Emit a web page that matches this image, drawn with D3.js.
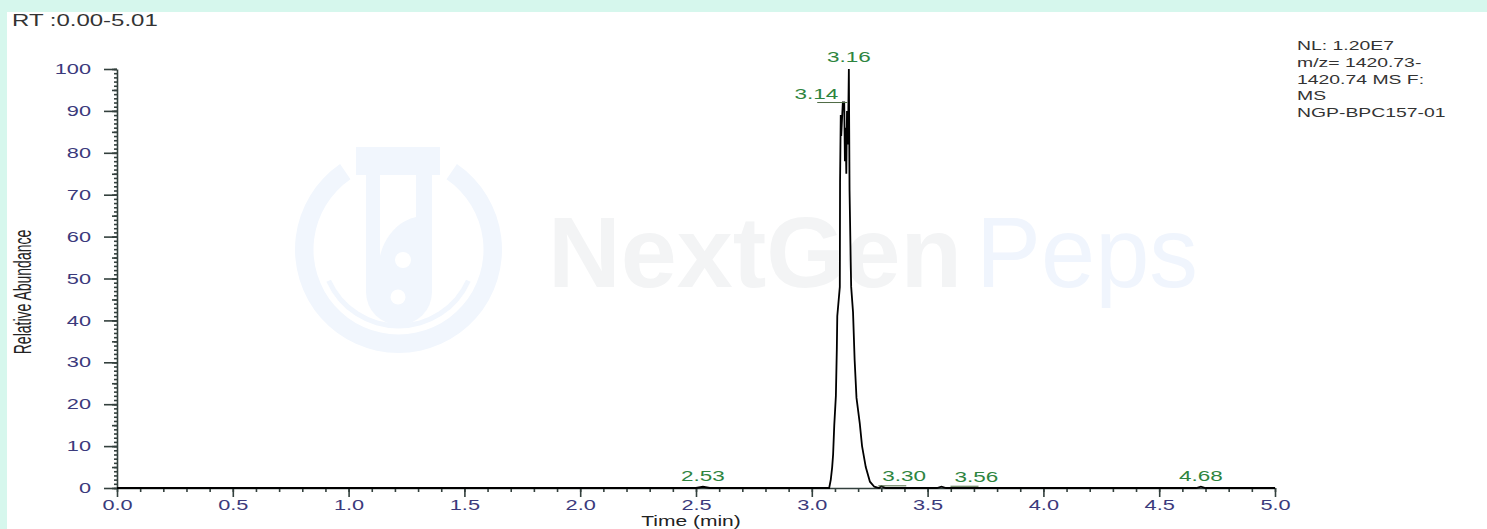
<!DOCTYPE html>
<html>
<head>
<meta charset="utf-8">
<script src="https://cdn.jsdelivr.net/npm/d3@7"></script>
<style>
html,body{margin:0;padding:0;background:#d6f7ed;}
svg{display:block;font-family:"Liberation Sans",Arial,sans-serif;}
</style>
</head>
<body>
<svg id="chart" width="1487" height="529"></svg>
<script>
// chromatogram trace : retention time (min) / relative abundance (%)
var rtTime  = [0.00, 2.50, 2.53, 2.56, 3.050, 3.075, 3.082, 3.088, 3.092, 3.097, 3.104, 3.108, 3.110, 3.121, 3.122,
	3.125, 3.127, 3.134, 3.140, 3.143, 3.146, 3.149, 3.152, 3.156, 3.160, 3.163, 3.168, 3.170, 3.178, 3.185,
	3.193, 3.207, 3.217, 3.233, 3.251, 3.270, 3.290, 3.300, 3.320, 3.540, 3.560, 3.580, 4.660, 4.680, 4.700, 5.00];
var rtAbund = [0, 0, 0.3, 0, 0, 0, 2, 5, 8, 15, 22, 33, 41, 48, 73,
	89, 84, 92, 92, 78, 86, 75, 90, 82, 100, 71, 54, 48, 42, 30.5,
	21.5, 15.5, 10, 5, 1.5, 0.3, 0, 0.4, 0, 0, 0.3, 0, 0, 0.3, 0, 0];

// labelled peaks
var peakTime  = [2.53, 3.14, 3.16, 3.30, 3.56, 4.68];
var peakAbund = [0.3, 92, 100, 0.4, 0.3, 0.3];
var peakText  = ["2.53", "3.14", "3.16", "3.30", "3.56", "4.68"];

// axes
var xMajor = [0.0, 0.5, 1.0, 1.5, 2.0, 2.5, 3.0, 3.5, 4.0, 4.5, 5.0];
var yMajor = [0, 10, 20, 30, 40, 50, 60, 70, 80, 90, 100];

// header texts
var rangeText = "RT :0.00-5.01";
var infoLines = ["NL: 1.20E7", "m/z= 1420.73-", "1420.74 MS  F:", "MS", "NGP-BPC157-01"];

var W = 1487, H = 529, SX = 1.5;
var svg = d3.select('#chart');

// white plate on the mint page
svg.append('rect').attr('x', 7).attr('y', 12).attr('width', W - 7).attr('height', H - 12).attr('fill', '#fff');

// faint watermark
var wm = svg.append('g');
var logoC = [398.5, 249.5], logoCol = '#f1f6fd';
wm.append('path').attr('transform', 'translate(' + logoC + ')').attr('fill', logoCol)
	.attr('d', d3.arc().innerRadius(85).outerRadius(103.5).startAngle(0.6).endAngle(2 * Math.PI - 0.6)());
wm.append('path').attr('transform', 'translate(' + logoC + ')').attr('fill', logoCol)
	.attr('d', d3.arc().innerRadius(74).outerRadius(79).startAngle(Math.PI - 1.15).endAngle(Math.PI + 1.15)());
wm.append('rect').attr('x', 356).attr('y', 147).attr('width', 84).attr('height', 28).attr('fill', logoCol);
wm.append('path').attr('fill', logoCol).attr('d', 'M366,175H432V292A33,33 0 0 1 366,292Z');
wm.append('path').attr('fill', '#fff').attr('d', 'M380,175H416V217C402,220 386,232 380,256Z');
wm.append('circle').attr('cx', 403).attr('cy', 260).attr('r', 8).attr('fill', '#fff');
wm.append('circle').attr('cx', 398).attr('cy', 297).attr('r', 7.5).attr('fill', '#fff');
wm.append('text').attr('x', 548).attr('y', 287).attr('font-size', 101).attr('font-weight', 'bold')
	.attr('fill', '#f3f4f5').attr('textLength', 414).attr('lengthAdjust', 'spacingAndGlyphs').text('NextGen');
wm.append('text').attr('x', 976).attr('y', 287).attr('font-size', 101)
	.attr('fill', '#f0f5fd').attr('textLength', 222).attr('lengthAdjust', 'spacingAndGlyphs').text('Peps');

// scales
var x = d3.scaleLinear().domain([0, 5]).range([117, 1275]);
var y = d3.scaleLinear().domain([0, 100]).range([488, 69]);

function stext(g, px, py, str, sx) {
	return g.append('text').attr('transform', 'translate(' + px + ',' + py + ') scale(' + (sx || SX) + ',1)').text(str);
}

var axisCol = '#33403d', tickCol = '#3b3a7c';

// x axis : minor + major
var gx = svg.append('g').attr('transform', 'translate(0,' + y(0) + ')');
gx.append('g').call(d3.axisBottom(x).ticks(50).tickSize(4).tickSizeOuter(0).tickFormat(''))
	.call(function(g) { g.select('.domain').remove(); });
gx.append('g').call(d3.axisBottom(x).tickValues(xMajor).tickSize(9).tickSizeOuter(0).tickPadding(3).tickFormat(d3.format('.1f')));

// y axis : minor + major
var gy = svg.append('g').attr('transform', 'translate(' + x(0) + ',0)');
gy.append('g').call(d3.axisLeft(y).ticks(100).tickSize(3).tickSizeOuter(0).tickFormat(''))
	.call(function(g) { g.select('.domain').remove(); });
gy.append('g').call(d3.axisLeft(y).ticks(20).tickSize(5).tickSizeOuter(0).tickFormat(''))
	.call(function(g) { g.select('.domain').remove(); });
gy.append('g').call(d3.axisLeft(y).tickValues(yMajor).tickSize(13).tickSizeOuter(0).tickPadding(13));

svg.selectAll('.domain, .tick line').attr('stroke', axisCol).attr('stroke-width', 1.6);
svg.selectAll('.tick text').attr('fill', tickCol).attr('font-size', 14.5)
	.attr('font-family', '"Liberation Sans",Arial,sans-serif').attr('transform', 'scale(' + SX + ',1)');
gy.selectAll('.tick text').attr('x', -26 / SX);

// trace
svg.append('path')
	.attr('fill', 'none').attr('stroke', '#000').attr('stroke-width', 1.8).attr('stroke-linejoin', 'miter')
	.attr('d', d3.line().x(function(i) { return x(rtTime[i]); }).y(function(i) { return y(rtAbund[i]); })(d3.range(rtTime.length)));

// peak labels
var labelPlace = {"2.53": 'center', "3.14": 'left', "3.16": 'top', "3.30": 'right', "3.56": 'right', "4.68": 'center'};
var labelDx = {"3.30": 1, "3.56": 13};
var gl = svg.append('g').attr('fill', '#2e8540').attr('font-size', 15);
peakText.forEach(function(t, i) {
	var px = x(peakTime[i]), py = y(peakAbund[i]), pl = labelPlace[t];
	if (pl == 'top') {
		stext(gl, px, py - 7, t).attr('text-anchor', 'middle');
	} else if (pl == 'center') {
		stext(gl, px, py - 6, t).attr('text-anchor', 'middle');
	} else if (pl == 'left') {
		stext(gl, px - 6, py - 4, t).attr('text-anchor', 'end');
		gl.append('line').attr('x1', px - 27).attr('x2', px + 3).attr('y1', py).attr('y2', py).attr('stroke', '#4f6a45').attr('stroke-width', 1);
	} else {
		var dx = labelDx[t] || 0;
		stext(gl, px + dx, py - 5, t).attr('text-anchor', 'start');
		gl.append('line').attr('x1', px + dx - 4).attr('x2', px + dx + 24).attr('y1', py - 0.5).attr('y2', py - 0.5).attr('stroke', '#4f6a45').attr('stroke-width', 1);
	}
});

// titles
stext(svg, 12, 26, rangeText).attr('font-size', 16).attr('fill', '#333');
stext(svg, 691, 526, 'Time (min)').attr('font-size', 14).attr('fill', '#222').attr('text-anchor', 'middle');
svg.append('text').attr('transform', 'translate(31,292) scale(1.7,1) rotate(-90)')
	.attr('font-size', 14).attr('fill', '#222').attr('text-anchor', 'middle').text('Relative Abundance');

var gi = svg.append('g').attr('font-size', 12.5).attr('fill', '#333');
infoLines.forEach(function(l, i) { stext(gi, 1297, 50 + i * 16.8, l, 1.55); });
</script>
</body>
</html>
